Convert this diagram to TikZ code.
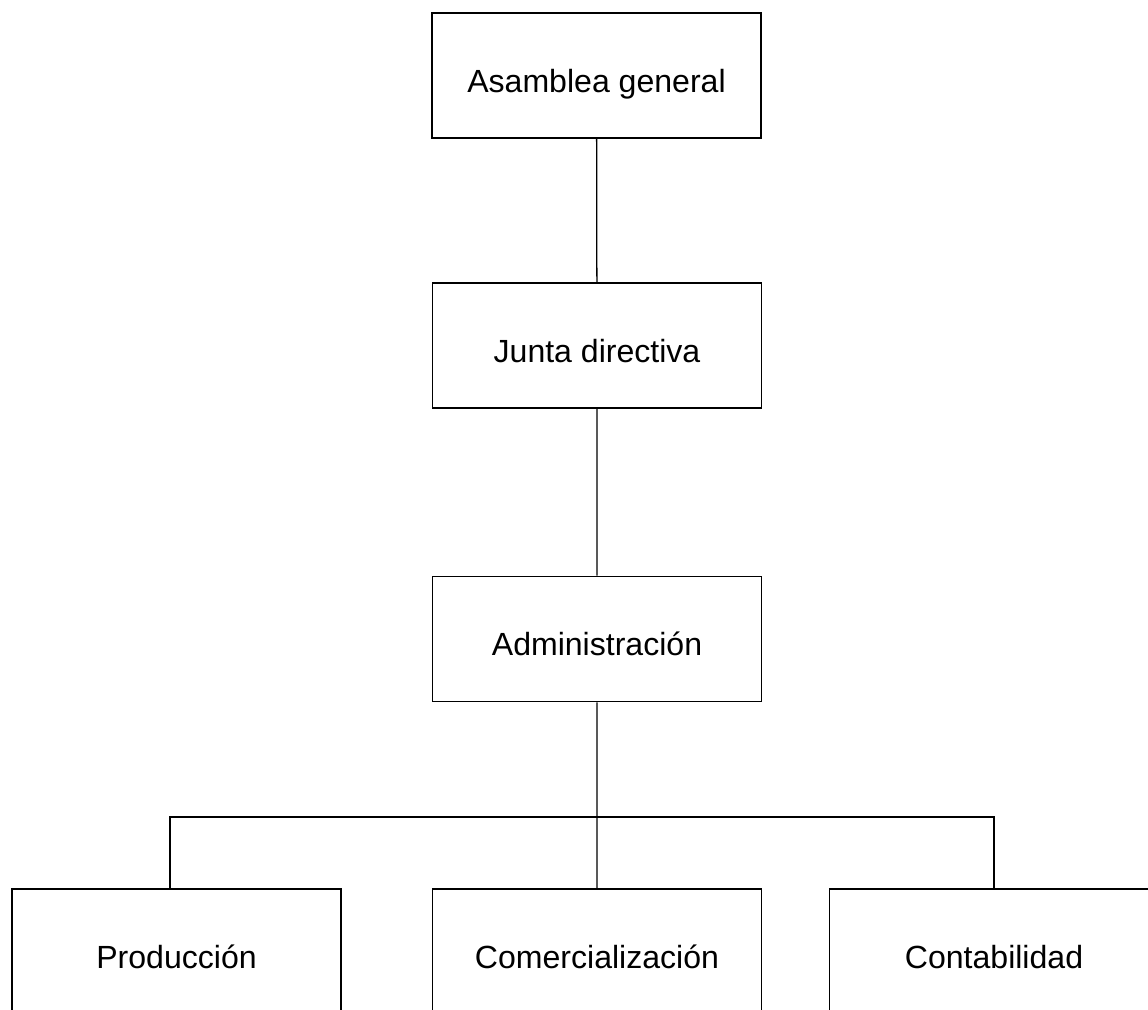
\documentclass[tikz,border=0pt]{standalone}
\usepackage{fontspec}
\setmainfont{Liberation Sans}

\begin{document}
\begin{tikzpicture}[x=0.025cm,y=-0.025cm,
    caja/.style={draw,line width=1.2pt,minimum width=8.225cm,minimum height=3.125cm,inner sep=0pt,
      text height=23.5pt,text depth=0pt,font=\fontsize{22.8}{27}\selectfont},
    enlace/.style={line width=0.9pt}]
    \useasboundingbox (0,0) rectangle (1148,1010);
    \clip (0,0) rectangle (1148,1010);
    \node[caja] (asamblea) at (596.5,75.5) {Asamblea general};
    \node[caja] (junta) at (597,345.5) {Junta directiva};
    \node[caja] (admin) at (597,639) {Administración};
    \node[caja] (prod) at (176.5,951.5) {Producción};
    \node[caja] (com) at (597,951.5) {Comercialización};
    \node[caja] (cont) at (994,951.5) {Contabilidad};
    \coordinate (railL) at (170,817);
    \coordinate (railR) at (994,817);
    \draw[enlace] (asamblea) -- (junta) -- (admin) -- (com);
    \draw[enlace] (prod.north -| railL) -- (railL) -- (railR) -- (cont.north);
\end{tikzpicture}
\end{document}
